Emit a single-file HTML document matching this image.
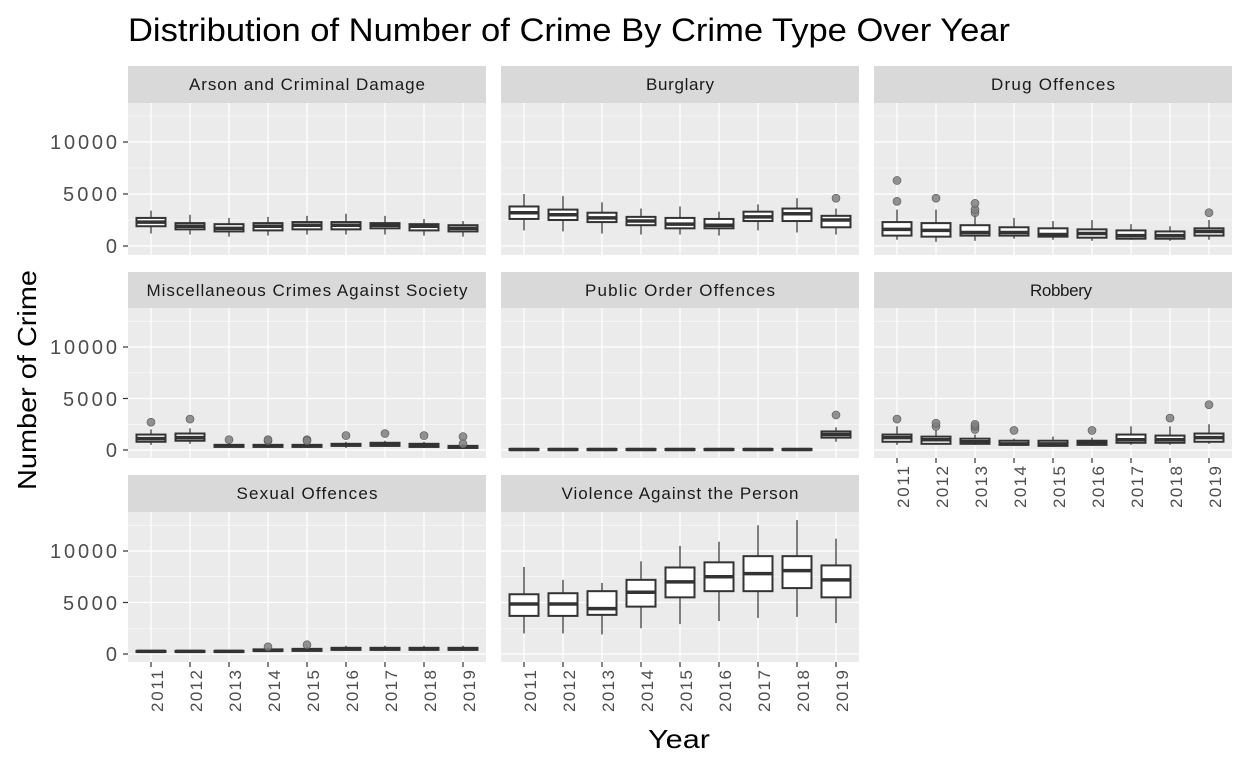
<!DOCTYPE html>
<html><head><meta charset="utf-8"><style>
html,body{margin:0;padding:0;background:#fff}
svg{display:block;font-family:"Liberation Sans",Arial,sans-serif}
</style></head><body>
<svg id="s" width="1248" height="768" xmlns="http://www.w3.org/2000/svg">
<text x="128" y="41" font-size="32" fill="#000" textLength="882" lengthAdjust="spacingAndGlyphs">Distribution of Number of Crime By Crime Type Over Year</text>
<text transform="translate(36,380) rotate(-90)" text-anchor="middle" font-size="26" fill="#000" textLength="220" lengthAdjust="spacingAndGlyphs">Number of Crime</text>
<text x="679" y="748" text-anchor="middle" font-size="26" fill="#000" textLength="62" lengthAdjust="spacingAndGlyphs">Year</text>
<g font-size="17" fill="#1a1a1a" text-anchor="middle" lengthAdjust="spacingAndGlyphs">
<rect x="128" y="66" width="358" height="37" fill="#d9d9d9"/><text x="307" y="90" textLength="236">Arson and Criminal Damage</text>
<rect x="501" y="66" width="358" height="37" fill="#d9d9d9"/><text x="680" y="90" textLength="68">Burglary</text>
<rect x="874" y="66" width="358" height="37" fill="#d9d9d9"/><text x="1053" y="90" textLength="124">Drug Offences</text>
<rect x="128" y="272" width="358" height="36" fill="#d9d9d9"/><text x="307" y="296" textLength="321">Miscellaneous Crimes Against Society</text>
<rect x="501" y="272" width="358" height="36" fill="#d9d9d9"/><text x="680" y="296" textLength="190">Public Order Offences</text>
<rect x="874" y="272" width="358" height="36" fill="#d9d9d9"/><text x="1061" y="296" textLength="62">Robbery</text>
<rect x="128" y="475" width="358" height="37" fill="#d9d9d9"/><text x="307" y="499" textLength="141">Sexual Offences</text>
<rect x="501" y="475" width="358" height="37" fill="#d9d9d9"/><text x="680" y="499" textLength="237">Violence Against the Person</text>
</g>
<g font-size="20" fill="#4d4d4d" text-anchor="end" lengthAdjust="spacingAndGlyphs">
<text x="117" y="149" textLength="67">10000</text><text x="117" y="201" textLength="54">5000</text><text x="117" y="253" textLength="13">0</text>
<text x="117" y="354" textLength="67">10000</text><text x="117" y="406" textLength="54">5000</text><text x="117" y="457" textLength="13">0</text>
<text x="117" y="558" textLength="67">10000</text><text x="117" y="610" textLength="54">5000</text><text x="117" y="661" textLength="13">0</text>
</g>
<g font-size="17" fill="#4d4d4d" text-anchor="end">
<text transform="translate(163,670) rotate(-90)" textLength="42">2011</text><text transform="translate(202,670) rotate(-90)" textLength="42">2012</text><text transform="translate(241,670) rotate(-90)" textLength="42">2013</text><text transform="translate(280,670) rotate(-90)" textLength="42">2014</text><text transform="translate(319,670) rotate(-90)" textLength="42">2015</text><text transform="translate(358,670) rotate(-90)" textLength="42">2016</text><text transform="translate(397,670) rotate(-90)" textLength="42">2017</text><text transform="translate(436,670) rotate(-90)" textLength="42">2018</text><text transform="translate(475,670) rotate(-90)" textLength="42">2019</text>
<text transform="translate(536,670) rotate(-90)" textLength="42">2011</text><text transform="translate(575,670) rotate(-90)" textLength="42">2012</text><text transform="translate(614,670) rotate(-90)" textLength="42">2013</text><text transform="translate(653,670) rotate(-90)" textLength="42">2014</text><text transform="translate(692,670) rotate(-90)" textLength="42">2015</text><text transform="translate(731,670) rotate(-90)" textLength="42">2016</text><text transform="translate(770,670) rotate(-90)" textLength="42">2017</text><text transform="translate(809,670) rotate(-90)" textLength="42">2018</text><text transform="translate(848,670) rotate(-90)" textLength="42">2019</text>
<text transform="translate(909,466) rotate(-90)" textLength="42">2011</text><text transform="translate(948,466) rotate(-90)" textLength="42">2012</text><text transform="translate(987,466) rotate(-90)" textLength="42">2013</text><text transform="translate(1026,466) rotate(-90)" textLength="42">2014</text><text transform="translate(1065,466) rotate(-90)" textLength="42">2015</text><text transform="translate(1104,466) rotate(-90)" textLength="42">2016</text><text transform="translate(1143,466) rotate(-90)" textLength="42">2017</text><text transform="translate(1182,466) rotate(-90)" textLength="42">2018</text><text transform="translate(1221,466) rotate(-90)" textLength="42">2019</text>
</g>
<g id="p"></g>
</svg>
<script>
var NS="http://www.w3.org/2000/svg",g=document.getElementById("p");
function el(t,a){var e=document.createElementNS(NS,t);for(var k in a)e.setAttribute(k,a[k]);g.appendChild(e);return e;}
var panels=[
{x:128,y:103,h:152,z:246,s:10.4,xa:0,d:[[1.2,1.9,2.3,2.7,3.4],[1.1,1.6,1.9,2.2,3.0],[0.9,1.4,1.7,2.1,2.7],[1.0,1.5,1.9,2.2,2.8],[1.1,1.6,2.0,2.3,2.9],[1.1,1.6,2.0,2.3,3.1],[1.1,1.7,2.0,2.2,2.9],[1.0,1.5,1.9,2.1,2.6],[0.9,1.4,1.7,2.0,2.4]],o:[]},
{x:501,y:103,h:152,z:246,s:10.4,xa:0,d:[[1.5,2.6,3.2,3.8,5.0],[1.4,2.5,3.0,3.5,4.8],[1.2,2.3,2.7,3.2,4.2],[1.1,2.0,2.4,2.8,3.6],[1.1,1.7,2.1,2.7,3.8],[1.0,1.7,2.0,2.6,3.3],[1.5,2.4,2.8,3.3,4.0],[1.3,2.4,3.1,3.6,4.6],[1.1,1.8,2.5,2.9,3.6]],o:[[8,4.6]]},
{x:874,y:103,h:152,z:246,s:10.4,xa:0,d:[[0.6,1.0,1.6,2.3,3.5],[0.4,0.9,1.5,2.2,3.5],[0.5,1.0,1.3,2.0,3.0],[0.7,1.0,1.3,1.8,2.7],[0.6,0.9,1.1,1.7,2.4],[0.5,0.8,1.2,1.6,2.5],[0.6,0.7,1.0,1.5,2.1],[0.5,0.7,1.0,1.4,1.9],[0.6,1.0,1.4,1.7,2.5]],o:[[0,4.3],[0,6.3],[1,4.6],[2,3.2],[2,3.5],[2,4.1],[8,3.2]]},
{x:128,y:308,h:150,z:450,s:10.3,xa:0,d:[[0.5,0.8,1.1,1.5,2.0],[0.6,0.9,1.2,1.6,2.1],[0.2,0.3,0.4,0.5,0.7],[0.2,0.3,0.4,0.5,0.7],[0.2,0.3,0.4,0.5,0.8],[0.2,0.4,0.5,0.6,0.8],[0.3,0.4,0.5,0.7,0.9],[0.2,0.3,0.4,0.6,0.8],[0.1,0.2,0.3,0.4,0.6]],o:[[0,2.7],[1,3.0],[2,1.0],[3,0.9],[3,1.0],[4,1.0],[4,0.9],[5,1.4],[6,1.6],[7,1.4],[8,1.3],[8,0.6]]},
{x:501,y:308,h:150,z:450,s:10.3,xa:0,d:[[0,0,0.05,0.1,0.15],[0,0,0.05,0.1,0.15],[0,0,0.05,0.1,0.15],[0,0,0.05,0.1,0.15],[0,0,0.05,0.1,0.15],[0,0,0.05,0.1,0.15],[0,0,0.05,0.1,0.15],[0,0,0.05,0.1,0.15],[0.8,1.2,1.5,1.8,2.2]],o:[[8,3.4]]},
{x:874,y:308,h:150,z:450,s:10.3,xa:1,d:[[0.5,0.8,1.2,1.5,2.3],[0.5,0.6,1.0,1.3,1.9],[0.5,0.6,0.8,1.1,1.5],[0.4,0.5,0.6,0.9,1.1],[0.3,0.4,0.6,0.9,1.3],[0.4,0.5,0.7,0.9,1.2],[0.5,0.7,1.0,1.5,2.3],[0.5,0.7,1.0,1.4,2.3],[0.6,0.8,1.2,1.6,2.5]],o:[[0,3.0],[1,2.3],[1,2.6],[2,2.0],[2,2.3],[2,2.5],[3,1.9],[5,1.9],[7,3.1],[8,4.4]]},
{x:128,y:512,h:150,z:654,s:10.3,xa:1,d:[[0.1,0.2,0.25,0.3,0.4],[0.1,0.2,0.25,0.3,0.4],[0.1,0.2,0.25,0.3,0.4],[0.2,0.3,0.35,0.45,0.6],[0.2,0.3,0.4,0.5,0.7],[0.3,0.4,0.5,0.6,0.8],[0.3,0.4,0.5,0.6,0.8],[0.3,0.4,0.5,0.6,0.8],[0.3,0.4,0.5,0.6,0.8]],o:[[3,0.7],[4,0.9]]},
{x:501,y:512,h:150,z:654,s:10.3,xa:1,d:[[2.0,3.7,4.85,5.8,8.45],[2.0,3.7,4.85,5.9,7.2],[1.9,3.8,4.4,6.1,6.9],[2.5,4.6,6.0,7.2,9.0],[2.9,5.5,7.0,8.4,10.5],[3.2,6.1,7.5,8.9,10.9],[3.5,6.1,7.8,9.5,12.5],[3.6,6.4,8.1,9.5,13.0],[3.0,5.5,7.2,8.6,11.2]],o:[]}
];
panels.forEach(function(p){
 el("rect",{x:p.x,y:p.y,width:358,height:p.h,fill:"#ebebeb"});
 [2.5,7.5,12.5].forEach(function(v){var y=p.z-v*p.s;if(y>p.y)el("line",{x1:p.x,x2:p.x+358,y1:y,y2:y,stroke:"#fff","stroke-width":0.6});});
 [0,5,10].forEach(function(v){var y=p.z-v*p.s;el("line",{x1:p.x,x2:p.x+358,y1:y,y2:y,stroke:"#fff","stroke-width":1.2});});
 for(var i=0;i<9;i++){var cx=p.x+23+39*i;el("line",{x1:cx,x2:cx,y1:p.y,y2:p.y+p.h,stroke:"#fff","stroke-width":1.2});}
 if(p.x==128){[0,5,10].forEach(function(v){var y=p.z-v*p.s;el("line",{x1:123,x2:128,y1:y,y2:y,stroke:"#333","stroke-width":1.2});});}
 if(p.xa){for(var i=0;i<9;i++){var cx=p.x+23+39*i;el("line",{x1:cx,x2:cx,y1:p.y+p.h,y2:p.y+p.h+5,stroke:"#333","stroke-width":1.2});}}
 p.d.forEach(function(b,i){
  var cx=p.x+23+39*i,Y=function(v){return p.z-v*p.s;};
  el("line",{x1:cx,x2:cx,y1:Y(b[0]),y2:Y(b[4]),stroke:"#333","stroke-width":1.2});
  el("rect",{x:cx-14.5,y:Y(b[3]),width:29,height:Math.max(Y(b[1])-Y(b[3]),0.5),fill:"#fff",stroke:"#333","stroke-width":2});
  el("line",{x1:cx-14.5,x2:cx+14.5,y1:Y(b[2]),y2:Y(b[2]),stroke:"#333","stroke-width":3.5});
 });
 p.o.forEach(function(o){el("circle",{cx:p.x+23+39*o[0],cy:p.z-o[1]*p.s,r:4,fill:"#7f7f7f","fill-opacity":0.85,stroke:"#555","stroke-width":0.6});});
});
</script>
</body></html>
